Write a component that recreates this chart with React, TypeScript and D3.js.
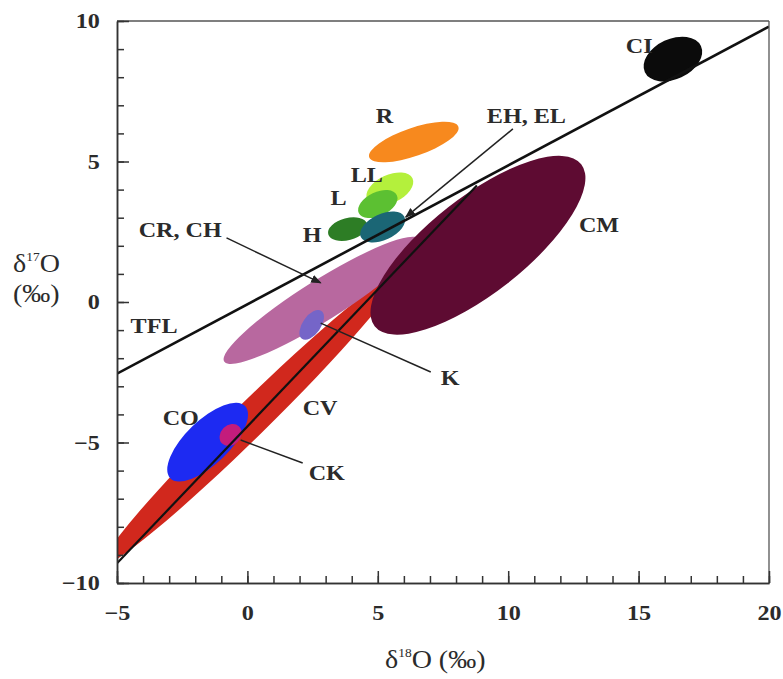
import React, { useEffect, useRef } from "react";
import * as d3 from "d3";

// isotope fields: ends of the long axis (d18O, d17O) and half width in d18O units
const fieldNames = ["CV", "CR, CH", "K", "CO", "CK", "CM", "R", "LL", "L", "H", "EH, EL", "CI"];
const fieldStart: [number, number][] = [
  [-5.5, -9.3], [-0.89, -2.12], [2.09, -1.31], [-2.96, -6.27], [-0.97, -5.04], [4.88, -0.86],
  [4.67, 5.15], [4.59, 3.64], [4.27, 3.17], [3.1, 2.41], [4.35, 2.31], [15.24, 8.18],
];
const fieldEnd: [number, number][] = [
  [5.69, 0.89], [6.59, 2.24], [2.84, -0.32], [-0.09, -3.7], [-0.32, -4.43], [12.8, 4.9],
  [8.09, 6.24], [6.33, 4.4], [5.73, 3.8], [4.59, 2.78], [6.02, 3.03], [17.39, 9.11],
];
const fieldWidth = [0.66, 0.78, 0.35, 0.84, 0.38, 1.85, 0.54, 0.54, 0.46, 0.42, 0.5, 0.77];

// reference lines
const tflLine: [number, number][] = [[-5, -2.55], [20, 9.8]];
const ccamLine: [number, number][] = [[-5, -9.3], [8.8, 4.15]];

// labels: text, anchor point (start, baseline)
const labelTexts = ["CI", "R", "LL", "L", "H", "EH, EL", "CR, CH", "CM", "TFL", "K", "CV", "CO", "CK"];
const labelPos: [number, number][] = [
  [14.51, 8.86], [4.92, 6.37], [3.96, 4.27], [3.19, 3.45], [2.12, 2.14], [9.18, 6.37],
  [-4.17, 2.31], [12.71, 2.49], [-4.48, -1.1], [7.41, -2.95], [2.12, -4.02], [-3.25, -4.38], [2.35, -6.33],
];

// leader lines from label to field
const leaderFrom: [number, number][] = [[-0.8, 2.28], [10.18, 6.16], [2.81, -0.75], [-0.26, -4.91]];
const leaderTo: [number, number][] = [[2.81, 0.68], [6.07, 3.02], [7.03, -2.49], [2.12, -5.73]];
const leaderArrow = [true, true, false, false];

const xTicks = [-5, 0, 5, 10, 15, 20];
const yTicks = [-10, -5, 0, 5, 10];

const fieldColors: Record<string, string> = {
  CV: "#d1281d",
  "CR, CH": "#b8689f",
  K: "#7565c8",
  CO: "#1d2af2",
  CK: "#c41c7c",
  CM: "#5e0b32",
  R: "#f7891e",
  LL: "#b4f03c",
  L: "#5cc032",
  H: "#2d7d25",
  "EH, EL": "#1b6675",
  CI: "#0b0b0b",
};

const W = 783;
const H = 679;
const ink = "#2b2b2b";
const serif = "'Liberation Serif', 'Times New Roman', serif";

export default function App() {
  const ref = useRef<SVGSVGElement>(null);

  useEffect(() => {
    const svg = d3.select(ref.current);
    svg.selectAll("*").remove();

    const x = d3.scaleLinear().domain([-5, 20]).range([117, 769]);
    const y = d3.scaleLinear().domain([-10, 10]).range([583, 21]);
    const pxPerUnit = x(1) - x(0);

    const defs = svg.append("defs");
    defs
      .append("clipPath")
      .attr("id", "plotclip")
      .append("rect")
      .attr("x", 117)
      .attr("y", 21)
      .attr("width", 652)
      .attr("height", 562);
    defs
      .append("marker")
      .attr("id", "arrow")
      .attr("viewBox", "0 0 10 10")
      .attr("refX", 9)
      .attr("refY", 5)
      .attr("markerWidth", 7)
      .attr("markerHeight", 7)
      .attr("orient", "auto")
      .append("path")
      .attr("d", "M0,1 L10,5 L0,9 Z")
      .attr("fill", "#222");

    const plot = svg.append("g").attr("clip-path", "url(#plotclip)");

    // ellipses
    fieldNames.forEach((name, i) => {
      const x1 = x(fieldStart[i][0]);
      const y1 = y(fieldStart[i][1]);
      const x2 = x(fieldEnd[i][0]);
      const y2 = y(fieldEnd[i][1]);
      const cx = (x1 + x2) / 2;
      const cy = (y1 + y2) / 2;
      const rx = Math.hypot(x2 - x1, y2 - y1) / 2;
      const ang = (Math.atan2(y2 - y1, x2 - x1) * 180) / Math.PI;
      plot
        .append("ellipse")
        .attr("cx", cx)
        .attr("cy", cy)
        .attr("rx", rx)
        .attr("ry", fieldWidth[i] * pxPerUnit)
        .attr("transform", `rotate(${ang},${cx},${cy})`)
        .attr("fill", fieldColors[name]);
    });

    const line = d3
      .line<[number, number]>()
      .x((d) => x(d[0]))
      .y((d) => y(d[1]));

    plot.append("path").attr("d", line(tflLine)).attr("stroke", "#111").attr("stroke-width", 2.6).attr("fill", "none");
    plot.append("path").attr("d", line(ccamLine)).attr("stroke", "#111").attr("stroke-width", 2.2).attr("fill", "none");

    leaderFrom.forEach((p, i) => {
      svg
        .append("path")
        .attr("d", line([p, leaderTo[i]]))
        .attr("stroke", "#222")
        .attr("stroke-width", 1.5)
        .attr("fill", "none")
        .attr("marker-end", leaderArrow[i] ? "url(#arrow)" : null);
    });

    // frame top / right
    svg.append("line").attr("x1", 117).attr("x2", 769).attr("y1", 21).attr("y2", 21).attr("stroke", "#555").attr("stroke-width", 1.3);
    svg.append("line").attr("x1", 769).attr("x2", 769).attr("y1", 21).attr("y2", 583).attr("stroke", "#555").attr("stroke-width", 1.3);

    // axes, ticks inward
    const styleAxis = (g: d3.Selection<SVGGElement, unknown, null, undefined>) => {
      g.selectAll("path, line").attr("stroke", "#333").attr("stroke-width", 1.5);
    };

    const gxMinor = svg.append("g").attr("transform", "translate(0,583)");
    gxMinor.call(d3.axisBottom(x).tickValues(d3.range(-5, 21)).tickSize(-7).tickSizeOuter(0).tickFormat(() => ""));
    const gx = svg.append("g").attr("transform", "translate(0,583)");
    gx.call(d3.axisBottom(x).tickValues(xTicks).tickSize(-12).tickSizeOuter(0).tickPadding(22));
    const gyMinor = svg.append("g").attr("transform", "translate(117,0)");
    gyMinor.call(d3.axisLeft(y).tickValues(d3.range(-10, 11)).tickSize(-7).tickSizeOuter(0).tickFormat(() => ""));
    const gy = svg.append("g").attr("transform", "translate(117,0)");
    gy.call(d3.axisLeft(y).tickValues(yTicks).tickSize(-12).tickSizeOuter(0).tickPadding(15));

    [gxMinor, gx, gyMinor, gy].forEach((g) => styleAxis(g as any));
    [gx, gy].forEach((g) =>
      g
        .selectAll("text")
        .attr("fill", ink)
        .attr("font-family", serif)
        .attr("font-weight", "bold")
        .attr("font-size", 21)
        .attr("transform", "scale(1.15,1)")
    );

    // field labels
    labelTexts.forEach((t, i) => {
      svg
        .append("text")
        .attr("transform", `translate(${x(labelPos[i][0])},${y(labelPos[i][1])}) scale(1.15,1)`)
        .attr("fill", ink)
        .attr("font-family", serif)
        .attr("font-weight", "bold")
        .attr("font-size", 21)
        .text(t);
    });

    // axis titles
    const yt = svg
      .append("text")
      .attr("transform", "translate(13,272) scale(1.12,1)")
      .attr("fill", ink)
      .attr("font-family", serif)
      .attr("font-size", 25);
    yt.append("tspan").text("δ");
    yt.append("tspan").attr("font-size", 12).attr("dy", -11).text("17");
    yt.append("tspan").attr("dy", 11).text("O");
    svg
      .append("text")
      .attr("transform", "translate(13,302) scale(1.12,1)")
      .attr("fill", ink)
      .attr("font-family", serif)
      .attr("font-size", 25)
      .text("(‰)");

    const xt = svg
      .append("text")
      .attr("transform", "translate(385,668) scale(1.12,1)")
      .attr("fill", ink)
      .attr("font-family", serif)
      .attr("font-size", 25);
    xt.append("tspan").text("δ");
    xt.append("tspan").attr("font-size", 12).attr("dy", -11).text("18");
    xt.append("tspan").attr("dy", 11).text("O (‰)");
  }, []);

  return (
    <div style={{ position: "absolute", left: 0, top: 0 }}>
      <svg ref={ref} width={W} height={H} style={{ display: "block", background: "#fff" }} />
    </div>
  );
}
